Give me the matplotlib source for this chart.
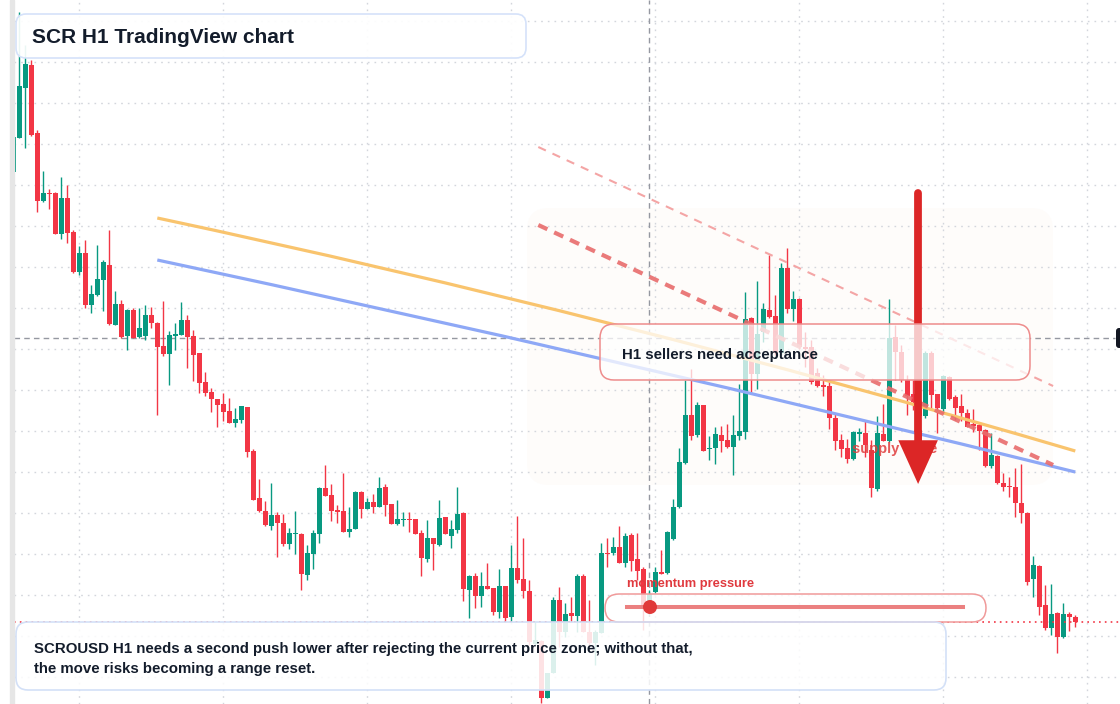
import numpy as np
import matplotlib.pyplot as plt
from matplotlib.patches import FancyBboxPatch, Rectangle, Circle, PathPatch
from matplotlib.path import Path
from matplotlib.lines import Line2D
from matplotlib.transforms import IdentityTransform

plt.rcParams['font.family'] = ['Liberation Sans', 'DejaVu Sans']

W, H = 1120, 704

# SCRUSD H1 candles (price)
opens = [0.628, 0.662, 0.712, 0.735, 0.667, 0.599, 0.607, 0.607, 0.566, 0.602,
         0.568, 0.528, 0.547, 0.495, 0.505, 0.520, 0.535, 0.475, 0.496, 0.464,
         0.490, 0.463, 0.464, 0.485, 0.477, 0.454, 0.446, 0.464, 0.465, 0.480,
         0.464, 0.447, 0.418, 0.408, 0.401, 0.396, 0.389, 0.377, 0.380, 0.393,
         0.349, 0.302, 0.289, 0.274, 0.285, 0.277, 0.256, 0.266, 0.266, 0.225,
         0.246, 0.266, 0.312, 0.305, 0.290, 0.289, 0.268, 0.271, 0.308, 0.291,
         0.298, 0.293, 0.313, 0.296, 0.276, 0.280, 0.281, 0.281, 0.267, 0.241,
         0.262, 0.255, 0.283, 0.264, 0.270, 0.287, 0.210, 0.224, 0.204, 0.214,
         0.212, 0.188, 0.214, 0.183, 0.232, 0.221, 0.209, 0.156, 0.159, 0.102,
         0.127, 0.200, 0.168, 0.187, 0.184, 0.224, 0.168, 0.157, 0.167, 0.247,
         0.247, 0.253, 0.237, 0.265, 0.241, 0.231, 0.194, 0.208, 0.228, 0.227,
         0.261, 0.293, 0.337, 0.385, 0.365, 0.395, 0.351, 0.352, 0.365, 0.360,
         0.353, 0.364, 0.368, 0.482, 0.426, 0.468, 0.490, 0.484, 0.447, 0.532,
         0.491, 0.501, 0.453, 0.453, 0.427, 0.415, 0.414, 0.382, 0.360, 0.352,
         0.341, 0.366, 0.367, 0.350, 0.311, 0.366, 0.359, 0.463, 0.448, 0.420,
         0.406, 0.398, 0.384, 0.447, 0.406, 0.391, 0.423, 0.403, 0.394, 0.387,
         0.376, 0.375, 0.370, 0.334, 0.344, 0.317, 0.314, 0.313, 0.297, 0.287,
         0.221, 0.234, 0.195, 0.172, 0.187, 0.163, 0.186, 0.183]
highs = [0.663, 0.788, 0.755, 0.740, 0.670, 0.629, 0.611, 0.608, 0.623, 0.615,
         0.570, 0.554, 0.560, 0.515, 0.555, 0.540, 0.570, 0.509, 0.500, 0.491,
         0.492, 0.492, 0.495, 0.493, 0.478, 0.499, 0.469, 0.477, 0.498, 0.485,
         0.470, 0.447, 0.428, 0.412, 0.401, 0.407, 0.402, 0.392, 0.394, 0.393,
         0.351, 0.321, 0.299, 0.317, 0.288, 0.286, 0.272, 0.289, 0.267, 0.255,
         0.270, 0.313, 0.335, 0.316, 0.295, 0.327, 0.293, 0.309, 0.309, 0.302,
         0.306, 0.323, 0.316, 0.296, 0.300, 0.288, 0.288, 0.281, 0.270, 0.280,
         0.262, 0.300, 0.283, 0.280, 0.313, 0.288, 0.225, 0.227, 0.228, 0.237,
         0.212, 0.231, 0.214, 0.255, 0.284, 0.262, 0.220, 0.178, 0.160, 0.127,
         0.203, 0.213, 0.197, 0.203, 0.226, 0.226, 0.200, 0.170, 0.257, 0.262,
         0.263, 0.274, 0.267, 0.267, 0.267, 0.233, 0.210, 0.233, 0.250, 0.269,
         0.301, 0.352, 0.420, 0.431, 0.398, 0.395, 0.364, 0.373, 0.374, 0.376,
         0.385, 0.416, 0.508, 0.483, 0.519, 0.497, 0.545, 0.505, 0.537, 0.552,
         0.509, 0.502, 0.468, 0.460, 0.432, 0.425, 0.420, 0.387, 0.366, 0.361,
         0.369, 0.372, 0.380, 0.360, 0.384, 0.396, 0.501, 0.475, 0.455, 0.425,
         0.420, 0.405, 0.449, 0.449, 0.406, 0.425, 0.424, 0.405, 0.406, 0.391,
         0.391, 0.377, 0.371, 0.367, 0.345, 0.327, 0.323, 0.332, 0.336, 0.288,
         0.244, 0.235, 0.215, 0.216, 0.188, 0.197, 0.188, 0.185]
lows = [0.628, 0.662, 0.652, 0.664, 0.588, 0.598, 0.591, 0.566, 0.561, 0.557,
        0.527, 0.525, 0.492, 0.487, 0.504, 0.489, 0.475, 0.475, 0.462, 0.450,
        0.462, 0.462, 0.460, 0.472, 0.385, 0.444, 0.415, 0.450, 0.465, 0.432,
        0.419, 0.407, 0.404, 0.388, 0.373, 0.379, 0.377, 0.373, 0.377, 0.343,
        0.300, 0.288, 0.274, 0.270, 0.243, 0.254, 0.251, 0.246, 0.210, 0.220,
        0.231, 0.257, 0.304, 0.279, 0.277, 0.268, 0.263, 0.271, 0.282, 0.291,
        0.287, 0.293, 0.284, 0.276, 0.275, 0.274, 0.268, 0.266, 0.224, 0.238,
        0.230, 0.254, 0.266, 0.252, 0.267, 0.199, 0.182, 0.192, 0.193, 0.211,
        0.185, 0.182, 0.178, 0.178, 0.217, 0.202, 0.155, 0.155, 0.097, 0.102,
        0.127, 0.153, 0.163, 0.178, 0.168, 0.168, 0.155, 0.135, 0.167, 0.233,
        0.245, 0.237, 0.233, 0.229, 0.220, 0.170, 0.192, 0.207, 0.226, 0.226,
        0.260, 0.292, 0.336, 0.360, 0.363, 0.349, 0.340, 0.336, 0.348, 0.352,
        0.325, 0.360, 0.361, 0.407, 0.411, 0.458, 0.482, 0.445, 0.445, 0.487,
        0.479, 0.451, 0.433, 0.416, 0.413, 0.404, 0.371, 0.350, 0.343, 0.337,
        0.340, 0.359, 0.343, 0.303, 0.309, 0.359, 0.358, 0.420, 0.418, 0.385,
        0.390, 0.380, 0.382, 0.390, 0.367, 0.388, 0.400, 0.380, 0.379, 0.373,
        0.368, 0.350, 0.333, 0.332, 0.316, 0.309, 0.303, 0.283, 0.277, 0.215,
        0.203, 0.185, 0.170, 0.165, 0.147, 0.162, 0.169, 0.173]
closes = [0.663, 0.714, 0.736, 0.665, 0.599, 0.607, 0.606, 0.566, 0.602, 0.567,
          0.528, 0.547, 0.495, 0.506, 0.521, 0.538, 0.476, 0.496, 0.463, 0.490,
          0.462, 0.472, 0.485, 0.477, 0.453, 0.446, 0.465, 0.466, 0.480, 0.463,
          0.445, 0.417, 0.407, 0.401, 0.395, 0.388, 0.377, 0.381, 0.394, 0.348,
          0.300, 0.289, 0.275, 0.285, 0.277, 0.256, 0.267, 0.267, 0.226, 0.247,
          0.267, 0.312, 0.304, 0.289, 0.288, 0.268, 0.271, 0.308, 0.291, 0.298,
          0.293, 0.312, 0.295, 0.276, 0.281, 0.281, 0.280, 0.266, 0.242, 0.262,
          0.256, 0.282, 0.266, 0.271, 0.286, 0.211, 0.224, 0.204, 0.214, 0.211,
          0.188, 0.214, 0.182, 0.232, 0.220, 0.209, 0.158, 0.160, 0.102, 0.127,
          0.200, 0.168, 0.186, 0.184, 0.224, 0.168, 0.157, 0.168, 0.247, 0.246,
          0.253, 0.237, 0.264, 0.239, 0.229, 0.194, 0.206, 0.228, 0.226, 0.268,
          0.293, 0.338, 0.385, 0.364, 0.395, 0.349, 0.352, 0.366, 0.359, 0.353,
          0.365, 0.369, 0.481, 0.426, 0.466, 0.491, 0.483, 0.447, 0.532, 0.491,
          0.501, 0.453, 0.451, 0.418, 0.414, 0.413, 0.382, 0.359, 0.351, 0.341,
          0.368, 0.368, 0.355, 0.312, 0.367, 0.359, 0.462, 0.448, 0.420, 0.404,
          0.398, 0.384, 0.447, 0.405, 0.392, 0.424, 0.401, 0.392, 0.387, 0.373,
          0.374, 0.369, 0.334, 0.345, 0.317, 0.313, 0.313, 0.297, 0.287, 0.218,
          0.235, 0.193, 0.172, 0.186, 0.163, 0.186, 0.183, 0.178]

# moving averages: start, bend and end (bar index, price) of each curve
ma_bars = [24, 100.5, 177]
ma_fast = [0.582, 0.4845, 0.349]
ma_slow = [0.540, 0.442, 0.328]

# falling trend lines
trend_bars = [87.5, 173.3]
trend_main = [0.575, 0.335]
trend_outer = [0.653, 0.414]

last_price = 0.178
cross_price = 0.462
cross_bar = 106
arrow_bar = 150.8
arrow_top, arrow_tip = 0.607, 0.316

green, red = '#089981', '#f23645'

fig = plt.figure(figsize=(W / 100, H / 100), dpi=100)
ax = fig.add_axes([14 / W, 0, 1 - 14 / W, 1])
ax.set_xlim(0.117, 184.45)
ax.set_ylim(0.096, 0.800)
for s in ax.spines.values():
    s.set_visible(False)
ax.set_xticks(np.arange(11, 185, 24))
ax.set_yticks(np.arange(0.123, 0.80, 0.041))
ax.tick_params(length=0, labelbottom=False, labelleft=False)
ax.set_axisbelow(True)
ax.grid(True, color='#d3d6dc', linestyle=(0, (1.2, 3.6)), linewidth=1)

idt = IdentityTransform()


def pbox(x0, y0, x1, y1, r, **kw):
    # box given in picture pixels (top-left origin)
    return FancyBboxPatch((x0, H - y1), x1 - x0, y1 - y0,
                          boxstyle=f'round,pad=0,rounding_size={r}',
                          transform=idt, **kw)


def ptext(x, y, s, **kw):
    return ax.text(x, H - y, s, transform=idt, va='baseline', **kw)


# supply zone background
ax.add_patch(pbox(527, 208, 1053, 485, 22, fc='#fefcfa', ec='none', zorder=0.2))

# crosshair
ax.axhline(cross_price, xmax=(1115 - 14) / (W - 14), color='#9598a1', lw=1,
           linestyle=(0, (4, 3)), zorder=1.5)
ax.axvline(cross_bar, color='#9598a1', lw=1, linestyle=(0, (4, 3)), zorder=1.5)

# candles
o = np.array(opens)
c = np.array(closes)
x = np.arange(len(c))
cols = np.where(c >= o, green, red)
ax.vlines(x, lows, highs, colors=cols, lw=1, zorder=1.8)
ax.bar(x, np.maximum(np.abs(c - o), 0.0013), bottom=np.minimum(o, c), width=0.8,
       color=cols, zorder=2)

# last price line
ax.axhline(last_price, color=red, lw=1.2, linestyle=(0, (1, 2.5)), zorder=2.5)

# moving averages (quadratic curves) and trend lines
for vals, col in [(ma_fast, '#f9c46e'), (ma_slow, '#8ea8f6')]:
    path = Path(list(zip(ma_bars, vals)), [Path.MOVETO, Path.CURVE3, Path.CURVE3])
    ax.add_patch(PathPatch(path, fc='none', ec=col, lw=2.3, capstyle='butt', zorder=3))
ax.plot(trend_bars, trend_outer, color='#f4a5a5', lw=1.5, zorder=3.2,
        linestyle=(0, (4, 3.5)))
ax.plot(trend_bars, trend_main, color='#e86c6c', lw=3, alpha=0.9, zorder=3.2,
        linestyle=(0, (2.4, 1.8)))

# supply zone label and arrow
ptext(852, 452.5, 'supply zone', color='#e03c3c', fontsize=10.6,
      fontweight='bold', alpha=0.85, zorder=4)
ax.plot([arrow_bar, arrow_bar], [arrow_top, 0.37], color='#dc2626', lw=5.6,
        solid_capstyle='round', zorder=5)
ax.annotate('', xy=(arrow_bar, arrow_tip), xytext=(arrow_bar, 0.37),
            arrowprops=dict(arrowstyle='simple,head_length=3.15,head_width=2.85,tail_width=0.56',
                            mutation_scale=10, fc='#dc2626', ec='none', lw=0,
                            shrinkA=0, shrinkB=0), zorder=5)

# boxes
ax.add_patch(pbox(16, 14, 526, 58, 10, fc='white', alpha=0.92, ec='none', zorder=6))
ax.add_patch(pbox(16, 14, 526, 58, 10, fc='none', ec='#d5e2fa', lw=1.2, zorder=6.1))
ptext(32, 43.3, 'SCR H1 TradingView chart', color='#131c2b', fontsize=15,
      fontweight='bold', zorder=7)

ax.add_patch(pbox(600, 324, 1030, 380, 14, fc='white', alpha=0.75, ec='none', zorder=6))
ax.add_patch(pbox(600, 324, 1030, 380, 14, fc='none', ec='#ee8c8c', lw=1.1, zorder=6.1))
ptext(622, 359.5, 'H1 sellers need acceptance', color='#131c2b', fontsize=10.8,
      fontweight='bold', zorder=7)

ax.add_patch(pbox(605, 594, 986, 622, 14, fc='white', alpha=0.8, ec='none', zorder=6))
ax.add_patch(pbox(605, 594, 986, 622, 14, fc='none', ec='#f09a9a', lw=1.1, zorder=6.1))
ptext(627, 587.3, 'momentum pressure', color='#e0393e', fontsize=9.3,
      fontweight='bold', zorder=7)
ax.add_line(Line2D([627, 963], [H - 607, H - 607], transform=idt, color='#eb8080',
                   lw=2.9, zorder=7))
ax.add_patch(Circle((650, H - 607), 7, transform=idt, fc='#e03a3a', ec='none', zorder=7.5))

ax.add_patch(pbox(16, 622, 946, 690, 12, fc='white', alpha=0.86, ec='none', zorder=6))
ax.add_patch(pbox(16, 622, 946, 690, 12, fc='none', ec='#d3e0f7', lw=1.2, zorder=6.1))
ptext(34, 653, 'SCROUSD H1 needs a second push lower after rejecting the current price zone; without that,',
      color='#131c2b', fontsize=10.8, fontweight='bold', zorder=7)
ptext(34, 673.3, 'the move risks becoming a range reset.',
      color='#131c2b', fontsize=10.8, fontweight='bold', zorder=7)

# price label stub on right edge, left panel strip
ax.add_patch(pbox(1116, 328, 1126, 348, 3, fc='#131722', ec='none', zorder=8))
fig.add_artist(Rectangle((10, 0), 4, H, transform=idt, color='#e6e6e6'))

fig.savefig('out.png', dpi=100)
